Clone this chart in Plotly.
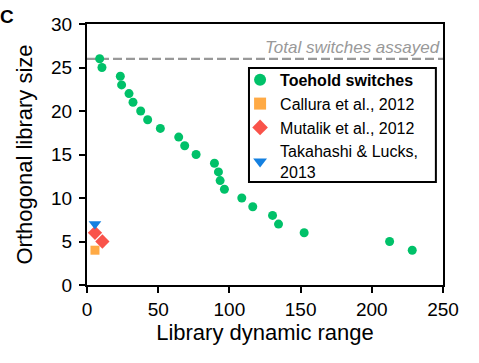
import plotly.graph_objects as go

toehold_x = [8.9, 10.5, 23.4, 24.3, 29.5, 32.3, 37.7, 42.6, 51.5, 64.4, 68.6, 76.6,
             89.5, 92.3, 93.5, 96.5, 108.7, 116.4, 130.3, 134.5, 152.5, 212.5, 228.4]
toehold_y = [26, 25, 24, 23, 22, 21, 20, 19, 18, 17, 16, 15,
             14, 13, 12, 11, 10, 9, 8, 7, 6, 5, 4]
callura_x = [5.6]
callura_y = [4]
mutalik_x = [5.6, 10.8]
mutalik_y = [6, 5]
takahashi_x = [5.6]
takahashi_y = [7]
total_switches = 26
x_range = [0, 250]
y_range = [0, 30]

font = "Liberation Sans, Arial, Helvetica, sans-serif"

fig = go.Figure()
fig.add_trace(go.Scatter(x=x_range, y=[total_switches, total_switches], mode="lines",
                         line=dict(color="#999999", width=2.2, dash="9px,4px"),
                         showlegend=False, hoverinfo="skip"))
fig.add_trace(go.Scatter(x=toehold_x, y=toehold_y, mode="markers",
                         name="<b>Toehold switches</b>",
                         marker=dict(symbol="circle", size=9, color="#00c169")))
fig.add_trace(go.Scatter(x=callura_x, y=callura_y, mode="markers",
                         name="Callura et al., 2012",
                         marker=dict(symbol="square", size=9, color="#ffaa45")))
fig.add_trace(go.Scatter(x=mutalik_x, y=mutalik_y, mode="markers",
                         name="Mutalik et al., 2012",
                         marker=dict(symbol="diamond", size=11, color="#f9534a")))
fig.add_trace(go.Scatter(x=takahashi_x, y=takahashi_y, mode="markers",
                         name="Takahashi & Lucks,<br>2013",
                         marker=dict(symbol="triangle-down", size=11, color="#1480e0")))

fig.add_annotation(x=249, y=total_switches, xref="x", yref="y", text="<i>Total switches assayed</i>",
                   showarrow=False, xanchor="right", yanchor="bottom", yshift=0,
                   font=dict(family=font, size=17, color="#999999"))
fig.add_annotation(x=0, y=1, xref="paper", yref="paper", text="<b>C</b>",
                   showarrow=False, xanchor="left", yanchor="middle",
                   xshift=-89, yshift=8,
                   font=dict(family=font, size=19, color="black"))

# legend frame
fig.add_shape(type="rect", xref="paper", yref="paper",
              x0=0.455, x1=0.980, y0=0.395, y1=0.831,
              line=dict(color="black", width=2), fillcolor="white", layer="above")

fig.update_layout(
    width=479, height=363,
    margin=dict(l=87, r=36, t=24, b=78),
    paper_bgcolor="white", plot_bgcolor="white",
    font=dict(family=font, size=18, color="black"),
    showlegend=True,
    legend=dict(x=0.43, y=0.851, xanchor="left", yanchor="top",
                borderwidth=0, bgcolor="rgba(0,0,0,0)",
                font=dict(family=font, size=16, color="black"),
                tracegroupgap=0, itemsizing="constant", itemwidth=30),
    xaxis=dict(range=x_range, tickvals=[0, 50, 100, 150, 200, 250],
               showgrid=False, zeroline=False, showline=True, linecolor="black", linewidth=2,
               mirror=True, ticks="outside", ticklen=6, tickwidth=2, tickcolor="black",
               title=dict(text="Library dynamic range", standoff=0),
               tickfont=dict(size=19), automargin=False),
    yaxis=dict(range=y_range, tickvals=[0, 5, 10, 15, 20, 25, 30],
               showgrid=False, zeroline=False, showline=True, linecolor="black", linewidth=2,
               mirror=True, ticks="outside", ticklen=6, tickwidth=2, tickcolor="black",
               ticklabelstandoff=3,
               title=dict(text="Orthogonal library size", standoff=12),
               tickfont=dict(size=19), automargin=False),
)
fig.write_html("out.html", config={"displayModeBar": False},
               post_script="document.body.style.margin='0';")
